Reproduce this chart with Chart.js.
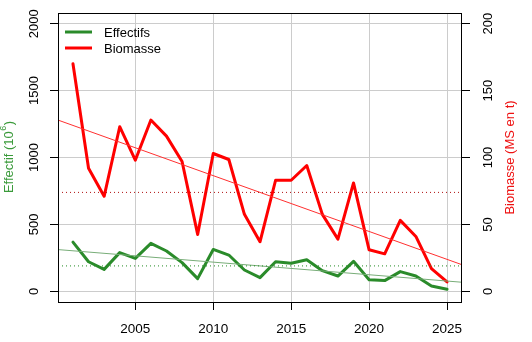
<!DOCTYPE html>
<html>
<head>
<meta charset="utf-8">
<script src="https://cdn.jsdelivr.net/npm/chart.js@4.4.0/dist/chart.umd.min.js"></script>
<style>
  html, body { margin: 0; padding: 0; background: #fff; }
  #wrap { width: 532px; height: 342px; }
</style>
</head>
<body>
<div id="wrap"><canvas id="chart"></canvas></div>
<script>
var years = [2001, 2002, 2003, 2004, 2005, 2006, 2007, 2008, 2009, 2010, 2011, 2012, 2013,
             2014, 2015, 2016, 2017, 2018, 2019, 2020, 2021, 2022, 2023, 2024, 2025];
// Effectif (left axis)
var effectifs = [368, 221, 164, 289, 246, 358, 301, 214, 95, 313, 271, 159, 102,
                 221, 209, 236, 154, 114, 224, 87, 80, 147, 114, 40, 15];
// Biomasse, MS en t (right axis)
var biomasse = [170, 92, 71, 123, 98, 128, 116, 97, 42.5, 103, 98.5, 57.5, 37,
                83, 83, 94, 57.5, 39, 81, 31, 28, 53, 41, 17, 7];
var xTicks = [2005, 2010, 2015, 2020, 2025];
var yTicksLeft = [0, 500, 1000, 1500, 2000];
var yTicksRight = [0, 50, 100, 150, 200];

var GREEN = "#2a8b2a";
var RED = "#ff0000";
var FONT = "'Liberation Sans', Arial, Helvetica, sans-serif";

// R-style axis limits (4% extension)
var xMin = 2000.04, xMax = 2025.96;

function fit(xs, ys) {
    var n = xs.length, mx = 0, my = 0;
    for (var i = 0; i < n; i++) { mx += xs[i]; my += ys[i]; }
    mx /= n; my /= n;
    var sxy = 0, sxx = 0;
    for (var j = 0; j < n; j++) {
        sxy += (xs[j] - mx) * (ys[j] - my);
        sxx += (xs[j] - mx) * (xs[j] - mx);
    }
    var b = sxy / sxx;
    return { a: my - b * mx, b: b, mean: my };
}

function pts(vals) {
    return years.map(function(y, i) { return { x: y, y: vals[i] }; });
}

var fE = fit(years, effectifs);
var fB = fit(years, biomasse);

function trend(f) {
    return [{ x: xMin, y: f.a + f.b * xMin }, { x: xMax, y: f.a + f.b * xMax }];
}
function flat(v) {
    return [{ x: xMin, y: v }, { x: xMax, y: v }];
}

var extras = {
    id: "extras",
    afterDraw: function(chart) {
        var ctx = chart.ctx, ca = chart.chartArea;
        var yl = chart.scales.y, yr = chart.scales.y2;
        ctx.save();
        // box
        ctx.strokeStyle = "#000";
        ctx.lineWidth = 1;
        ctx.strokeRect(ca.left + 0.5, ca.top + 0.5, ca.right - ca.left - 1, ca.bottom - ca.top);

        ctx.font = "13px " + FONT;
        ctx.fillStyle = "#000";
        ctx.textAlign = "center";
        ctx.textBaseline = "middle";
        yTicksLeft.forEach(function(v) {
            ctx.save();
            ctx.translate(34, yl.getPixelForValue(v));
            ctx.rotate(-Math.PI / 2);
            ctx.fillText(String(v), 0, 0);
            ctx.restore();
        });
        yTicksRight.forEach(function(v) {
            ctx.save();
            ctx.translate(488, yr.getPixelForValue(v));
            ctx.rotate(-Math.PI / 2);
            ctx.fillText(String(v), 0, 0);
            ctx.restore();
        });

        var cy = (ca.top + ca.bottom) / 2;
        // left title with superscript
        ctx.save();
        ctx.translate(9, cy);
        ctx.rotate(-Math.PI / 2);
        ctx.fillStyle = "#3a9a3a";
        var t1 = "Effectif (10", t2 = "6", t3 = ")";
        ctx.font = "13px " + FONT;
        var w1 = ctx.measureText(t1).width, w3 = ctx.measureText(t3).width;
        ctx.font = "9px " + FONT;
        var w2 = ctx.measureText(t2).width;
        var x0 = -(w1 + w2 + w3) / 2;
        ctx.textAlign = "left";
        ctx.font = "13px " + FONT;
        ctx.fillText(t1, x0, 0);
        ctx.font = "9px " + FONT;
        ctx.fillText(t2, x0 + w1 + 0.5, -5);
        ctx.font = "13px " + FONT;
        ctx.fillText(t3, x0 + w1 + w2 + 1, 0);
        ctx.restore();

        // right title
        ctx.save();
        ctx.translate(510, cy);
        ctx.rotate(-Math.PI / 2);
        ctx.fillStyle = "#ee1111";
        ctx.font = "13px " + FONT;
        ctx.fillText("Biomasse (MS en t)", 0, 0);
        ctx.restore();

        // legend
        var items = [["Effectifs", GREEN, 32], ["Biomasse", RED, 48]];
        items.forEach(function(it) {
            ctx.strokeStyle = it[1];
            ctx.lineWidth = 3;
            ctx.beginPath();
            ctx.moveTo(65, it[2]);
            ctx.lineTo(92, it[2]);
            ctx.stroke();
            ctx.fillStyle = "#000";
            ctx.textAlign = "left";
            ctx.font = "13px " + FONT;
            ctx.fillText(it[0], 104, it[2] + 1);
        });
        ctx.restore();
    }
};

var gridBase = { color: "#cccccc", lineWidth: 1, tickColor: "#000", tickLength: 8 };

new Chart(document.getElementById("chart"), {
    type: "line",
    data: {
        datasets: [
            { data: flat(fB.mean), yAxisID: "y2", borderColor: "#b01010", borderWidth: 1, borderDash: [1, 3], pointRadius: 0 },
            { data: flat(fE.mean), yAxisID: "y", borderColor: "#228b22", borderWidth: 1, borderDash: [1, 3], pointRadius: 0 },
            { data: trend(fB), yAxisID: "y2", borderColor: "#ff3030", borderWidth: 1, pointRadius: 0 },
            { data: trend(fE), yAxisID: "y", borderColor: "#78ad78", borderWidth: 1, pointRadius: 0 },
            { label: "Biomasse", data: pts(biomasse), yAxisID: "y2", borderColor: RED, borderWidth: 3,
              pointRadius: 0, borderJoinStyle: "round", borderCapStyle: "round" },
            { label: "Effectifs", data: pts(effectifs), yAxisID: "y", borderColor: GREEN, borderWidth: 3,
              pointRadius: 0, borderJoinStyle: "round", borderCapStyle: "round" }
        ]
    },
    options: {
        responsive: true,
        maintainAspectRatio: false,
        animation: false,
        events: [],
        layout: { padding: { top: 13, left: 0, right: 0, bottom: 0 } },
        plugins: { legend: { display: false }, tooltip: { enabled: false } },
        scales: {
            x: {
                type: "linear", min: xMin, max: xMax,
                afterBuildTicks: function(s) { s.ticks = xTicks.map(function(v) { return { value: v }; }); },
                afterFit: function(s) { s.height = 40; },
                grid: gridBase,
                border: { display: false },
                ticks: {
                    callback: function(v) { return String(v); },
                    color: "#000", font: { family: FONT, size: 13.5 }, padding: 11, maxRotation: 0
                }
            },
            y: {
                position: "left", min: -80, max: 2080,
                afterBuildTicks: function(s) { s.ticks = yTicksLeft.map(function(v) { return { value: v }; }); },
                afterFit: function(s) { s.width = 58; },
                grid: gridBase,
                border: { display: false },
                ticks: { display: false }
            },
            y2: {
                position: "right", min: -8, max: 208,
                afterBuildTicks: function(s) { s.ticks = yTicksRight.map(function(v) { return { value: v }; }); },
                afterFit: function(s) { s.width = 70; },
                grid: { drawOnChartArea: false, tickColor: "#000", tickLength: 8 },
                border: { display: false },
                ticks: { display: false }
            }
        }
    },
    plugins: [extras]
});
</script>
</body>
</html>
